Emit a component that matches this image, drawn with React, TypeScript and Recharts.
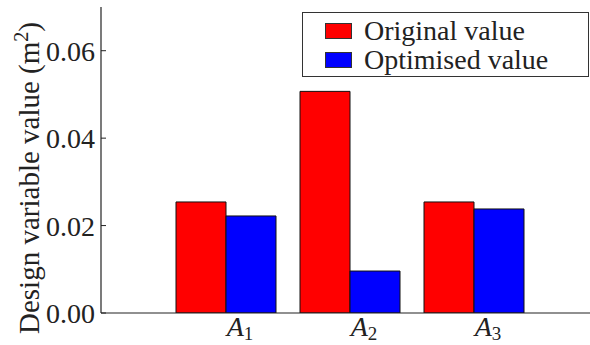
import { Bar, BarChart, Label, XAxis, YAxis } from 'recharts';

// Design variables and their cross-section areas (m^2)
const variables = ['1', '2', '3'];
const originalArea = [0.0254, 0.0507, 0.0254];
const optimisedArea = [0.0222, 0.0096, 0.0238];
const majorTicks = [0, 0.02, 0.04, 0.06];
const minorTicks = [0.01, 0.03, 0.05];

const rows = variables.map((v, i) => ({
  name: v,
  original: originalArea[i],
  optimised: optimisedArea[i],
}));

const FONT = 'Liberation Serif';
const INK = '#222';
const RED = '#ff0000';
const BLUE = '#0000ff';

function SubscriptTick({ x, y, payload }: any) {
  return (
    <text x={x + 14} y={y + 15} textAnchor="middle" fontFamily={FONT} fill={INK}>
      <tspan fontStyle="italic" fontSize={28}>A</tspan>
      <tspan fontSize={19} dy={4}>{payload.value}</tspan>
    </text>
  );
}

function YTitle() {
  return (
    <text
      x={0}
      y={0}
      transform="translate(39 178) rotate(-90)"
      textAnchor="middle"
      fontFamily={FONT}
      fontSize={29}
      fill={INK}
    >
      Design variable value (m
      <tspan fontSize={20} dy={-11}>2</tspan>
      <tspan dy={11}>)</tspan>
    </text>
  );
}

function LegendBox() {
  const item = (color: string, text: string) => (
    <div style={{ display: 'flex', alignItems: 'center', height: 29 }}>
      <span
        style={{
          display: 'inline-block',
          width: 25,
          height: 14,
          background: color,
          border: '1px solid #333',
          marginLeft: 22,
          marginRight: 12,
        }}
      />
      <span>{text}</span>
    </div>
  );
  return (
    <div
      style={{
        position: 'absolute',
        left: 302,
        top: 12,
        width: 287,
        height: 65,
        border: '1px solid #333',
        background: '#fff',
        fontFamily: FONT,
        fontSize: 28,
        color: INK,
        lineHeight: '29px',
        padding: '3px 0 2px 0',
        boxSizing: 'border-box',
      }}
    >
      {item(RED, 'Original value')}
      {item(BLUE, 'Optimised value')}
    </div>
  );
}

export default function App() {
  return (
    <div
      style={{
        position: 'fixed',
        left: 0,
        top: 0,
        width: 590,
        height: 345,
        overflow: 'hidden',
        background: '#fff',
        fontFamily: FONT,
      }}
    >
      <BarChart
        width={640}
        height={345}
        data={rows}
        margin={{ top: 7, right: 0, bottom: 0, left: 0 }}
        barSize={50}
        barGap={0}
        style={{ fontFamily: FONT }}
      >
        <XAxis
          dataKey="name"
          height={32}
          padding={{ left: 63, right: 104 }}
          axisLine={{ stroke: INK, strokeWidth: 1.2 }}
          tickLine={false}
          tick={<SubscriptTick />}
          interval={0}
        />
        <XAxis
          xAxisId="top"
          orientation="top"
          dataKey="name"
          height={0}
          padding={{ left: 63, right: 104 }}
          axisLine={{ stroke: INK, strokeWidth: 1.2 }}
          tickLine={{ stroke: INK }}
          tickSize={-4}
          tickFormatter={() => ''}
          interval={0}
        />
        <YAxis
          yAxisId="minor"
          width={0}
          domain={[0, 0.07]}
          ticks={minorTicks}
          axisLine={false}
          tickLine={{ stroke: INK }}
          tickSize={-3}
          tickFormatter={() => ''}
          allowDataOverflow
        />
        <YAxis
          width={101}
          domain={[0, 0.07]}
          ticks={majorTicks}
          allowDataOverflow
          axisLine={{ stroke: INK, strokeWidth: 1.2 }}
          tickLine={{ stroke: INK }}
          tickSize={-5}
          tickMargin={11}
          tickFormatter={(v: number) => v.toFixed(2)}
          tick={{ fontFamily: FONT, fontSize: 28, fill: INK }}
        >
          <Label content={() => <YTitle />} />
        </YAxis>
        <Bar dataKey="original" fill={RED} stroke="#111" strokeWidth={1} isAnimationActive={false} />
        <Bar dataKey="optimised" fill={BLUE} stroke="#111" strokeWidth={1} isAnimationActive={false} />
      </BarChart>
      <LegendBox />
    </div>
  );
}
